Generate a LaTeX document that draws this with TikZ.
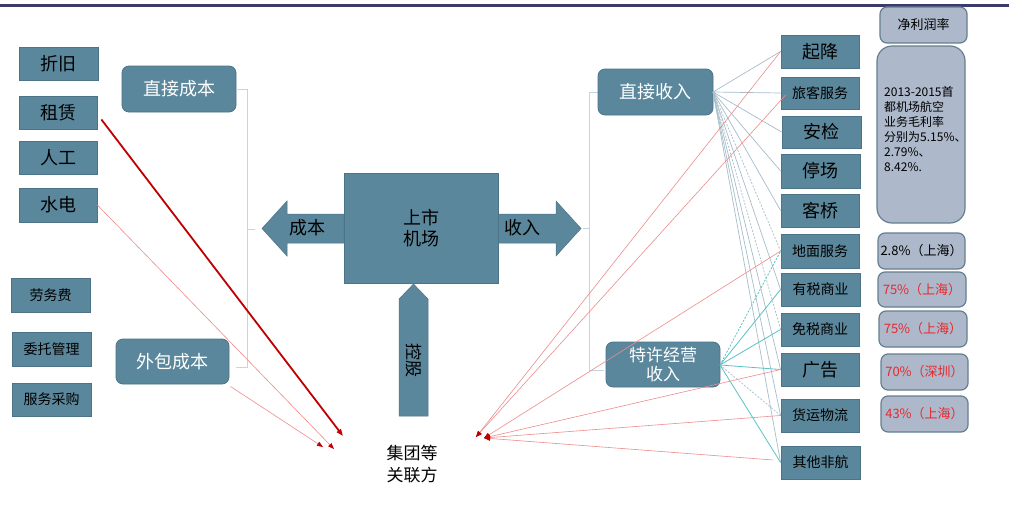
\documentclass[tikz,border=0pt]{standalone}
\usepackage{fontspec}
\setmainfont{Noto Sans CJK SC}
\usetikzlibrary{arrows.meta}
\definecolor{boxfill}{HTML}{5A879C}
\definecolor{boxdraw}{HTML}{4C7388}
\definecolor{gfill}{HTML}{ADB8CA}
\definecolor{gdraw}{HTML}{667F90}
\definecolor{brack}{HTML}{C3D5DE}
\definecolor{conn}{HTML}{A6BDCA}
\definecolor{tealc}{HTML}{5CC2C4}
\definecolor{lred}{HTML}{EE8C8C}
\definecolor{dred}{HTML}{C00000}
\definecolor{pred}{HTML}{E8282E}
\definecolor{topline}{HTML}{3B3B6B}
\newcommand\fz[2]{\fontsize{#1}{#2}\selectfont}
\begin{document}
\begin{tikzpicture}[x=1pt,y=-1pt,
  tbox/.style={draw=boxdraw, fill=boxfill, line width=0.8pt, inner sep=0pt, text=black, align=center},
  rbox/.style={tbox, rounded corners=7pt, text=white},
  gbox/.style={draw=gdraw, fill=gfill, rounded corners=7pt, line width=1.2pt, inner sep=0pt, align=center},
  brk/.style={draw=brack, line width=1pt},
  cn/.style={draw=conn, line width=0.7pt},
  cnd/.style={cn, dashed, dash pattern=on 2pt off 1.5pt},
  tl/.style={draw=tealc, line width=0.8pt},
  tld/.style={tl, dashed, dash pattern=on 2pt off 1.5pt},
  ra/.style={draw=lred, line width=0.6pt, -{Triangle[length=6pt,width=4.5pt,color=dred]}},
  bigarrow/.style={fill=boxfill, draw=boxdraw, line width=0.5pt}
]
\useasboundingbox (0,0) rectangle (1009,522);
\fill[white] (0,0) rectangle (1009,522);
\draw[topline, line width=3pt] (0,5) -- (1009,5);

% left boxes
\node[tbox, minimum width=79pt, minimum height=33pt, font=\fz{18}{20}] (zj) at (58.5,63.5) {折旧};
\node[tbox, minimum width=78pt, minimum height=33pt, font=\fz{18}{20}] (zl) at (58,112.5) {租赁};
\node[tbox, minimum width=78pt, minimum height=33pt, font=\fz{18}{20}] (rg) at (58,157.5) {人工};
\node[tbox, minimum width=78pt, minimum height=34pt, font=\fz{18}{20}] (sd) at (58,205) {水电};
\node[tbox, minimum width=79pt, minimum height=34pt, font=\fz{14}{16}] (lwf) at (50.5,295) {劳务费};
\node[tbox, minimum width=79pt, minimum height=34pt, font=\fz{14}{16}] (wt) at (51.5,349) {委托管理};
\node[tbox, minimum width=79pt, minimum height=33pt, font=\fz{14}{16}] (fw) at (51.5,399.5) {服务采购};
\node[rbox, minimum width=114pt, minimum height=46pt, font=\fz{18}{20}] (zjcb) at (179,89) {直接成本};
\node[rbox, minimum width=113pt, minimum height=45pt, font=\fz{18}{20}] (wbcb) at (172.5,361.5) {外包成本};

% left bracket
\coordinate (lb1) at (247,89);
\coordinate (lb2) at (247,367);
\coordinate (lbm) at (247,229);
\draw[brk] (zjcb.east) -- (lb1) -- (lb2) -- (236,367);
\draw[brk] (lbm) -- (255,229);

% center
\draw[bigarrow] (344,214) -- (287,214) -- (287,201) -- (262,228.5) -- (287,256) -- (287,243) -- (344,243) -- cycle;
\draw[bigarrow] (498,214) -- (556,214) -- (556,201) -- (581,228.5) -- (556,256) -- (556,243) -- (498,243) -- cycle;
\draw[bigarrow] (399,416) -- (399,299) -- (413.5,284) -- (428,299) -- (428,416) -- cycle;
\node[tbox, minimum width=154pt, minimum height=110pt, font=\fz{18}{21}] (jc) at (421,228) {上市\\机场};
\node[font=\fz{18}{20}] (cb) at (307,228) {成本};
\node[font=\fz{18}{20}] (sr) at (522,228) {收入};
\node[font=\fz{17}{20}, rotate=-90] (kg) at (413.5,360) {控股};
\node[font=\fz{17}{22}, align=center] (jt) at (412,464) {集团等\\关联方};

% right bracket
\coordinate (rb1) at (589,92);
\coordinate (rb2) at (589,370);
\coordinate (rbm) at (589,228.5);
\draw[brk] (598,92) -- (rb1) -- (rb2) -- (604,370);
\draw[brk] (rbm) -- (583,228.5);

% right nodes
\node[rbox, minimum width=115pt, minimum height=46pt, font=\fz{18}{20}] (zjsr) at (655.5,92) {直接收入};
\node[rbox, minimum width=114pt, minimum height=45pt, font=\fz{17}{19}] (tx) at (663,364.5) {特许经营\\收入};
\node[tbox, minimum width=78pt, minimum height=33pt, font=\fz{18}{20}] (qj) at (820,51.5) {起降};
\node[tbox, minimum width=78pt, minimum height=32pt, font=\fz{14}{16}] (lk) at (820,93) {旅客服务};
\node[tbox, minimum width=79pt, minimum height=32pt, font=\fz{18}{20}] (aj) at (821.5,132) {安检};
\node[tbox, minimum width=79pt, minimum height=34pt, font=\fz{18}{20}] (tc) at (820.5,171) {停场};
\node[tbox, minimum width=78pt, minimum height=33pt, font=\fz{18}{20}] (kq) at (820,210.5) {客桥};
\node[tbox, minimum width=78pt, minimum height=34pt, font=\fz{14}{16}] (dm) at (820,251) {地面服务};
\node[tbox, minimum width=79pt, minimum height=33pt, font=\fz{14}{16}] (ys) at (820.5,289.5) {有税商业};
\node[tbox, minimum width=78pt, minimum height=33pt, font=\fz{14}{16}] (ms) at (820,329.5) {免税商业};
\node[tbox, minimum width=78pt, minimum height=33pt, font=\fz{18}{20}] (gg) at (820,369.5) {广告};
\node[tbox, minimum width=78pt, minimum height=33pt, font=\fz{14}{16}] (hy) at (820,415.5) {货运物流};
\node[tbox, minimum width=79pt, minimum height=33pt, font=\fz{14}{16}] (qt) at (820.5,462.5) {其他非航};

% grey boxes
\node[gbox, minimum width=87pt, minimum height=36pt, font=\fz{13}{15}] (jlr) at (923.5,25) {净利润率};
\node[gbox, rounded corners=15pt, minimum width=88pt, minimum height=177pt] (big) at (921,134.5) {};
\node[anchor=north west, align=left, inner sep=0pt, font=\fz{12}{15}] (bigt) at (884,86)
  {2013-2015首\\都机场航空\\业务毛利率\\分别为5.15\%、\\2.79\%、\\8.42\%.};
\node[gbox, minimum width=87pt, minimum height=36pt, font=\fz{13}{15}] (p1) at (921.5,251) {2.8\%（上海）};
\node[gbox, minimum width=88pt, minimum height=35pt, font=\fz{13}{15}, text=pred] (p2) at (922,289.5) {75\%（上海）};
\node[gbox, minimum width=88pt, minimum height=36pt, font=\fz{13}{15}, text=pred] (p3) at (923,329) {75\%（上海）};
\node[gbox, minimum width=87pt, minimum height=36pt, font=\fz{13}{15}, text=pred] (p4) at (924.5,372) {70\%（深圳）};
\node[gbox, minimum width=87pt, minimum height=36pt, font=\fz{13}{15}, text=pred] (p5) at (924.5,414) {43\%（上海）};

% connectors from 直接收入
\coordinate (zo) at (713,92);
\draw[cn] (zo) -- (qj.west);
\draw[cn] (zo) -- (lk.west);
\draw[cn] (zo) -- (aj.west);
\draw[cn] (zo) -- (tc.west);
\draw[cn] (zo) -- (kq.west);
\draw[cnd] (zo) -- (dm.west);
\draw[cnd] (zo) -- (ms.west);
\draw[cn] (zo) -- (gg.west);
\draw[cn] (zo) -- (hy.west);
\draw[cn] (zo) -- (qt.west);
\draw[cn] (zo) -- (ys.west);

% connectors from 特许经营收入
\coordinate (to) at (720,365);
\draw[tld] (to) -- (dm.west);
\draw[tl] (to) -- (ys.west);
\draw[tl] (to) -- (ms.west);
\draw[tl] (to) -- (gg.west);
\draw[cnd] (to) -- (hy.west);
\draw[tl] (to) -- (qt.west);

% red arrows to 集团等关联方
\coordinate (ra1) at (476,437);
\coordinate (ra2) at (484,438);
\coordinate (qt0) at (773,460);
\draw[ra] (qj.west) -- (ra1);
\draw[ra] (lk.west) ++(5,2) -- (ra1);
\draw[ra] (dm.west) -- (ra2);
\draw[ra] (gg.west) -- (ra2);
\draw[ra] (hy.west) -- (ra2);
\draw[ra] (qt0) -- (ra2);

\coordinate (la1) at (343,436);
\coordinate (la2) at (334,449);
\coordinate (la3) at (323,447);
\draw[dred, line width=1.8pt, -{Triangle[length=7pt,width=5pt]}] (zl.east) ++(4,7) -- (la1);
\draw[ra] (sd.east) -- (la2);
\draw[ra] (wbcb.south east) ++(1,2) -- (la3);
\end{tikzpicture}
\end{document}
